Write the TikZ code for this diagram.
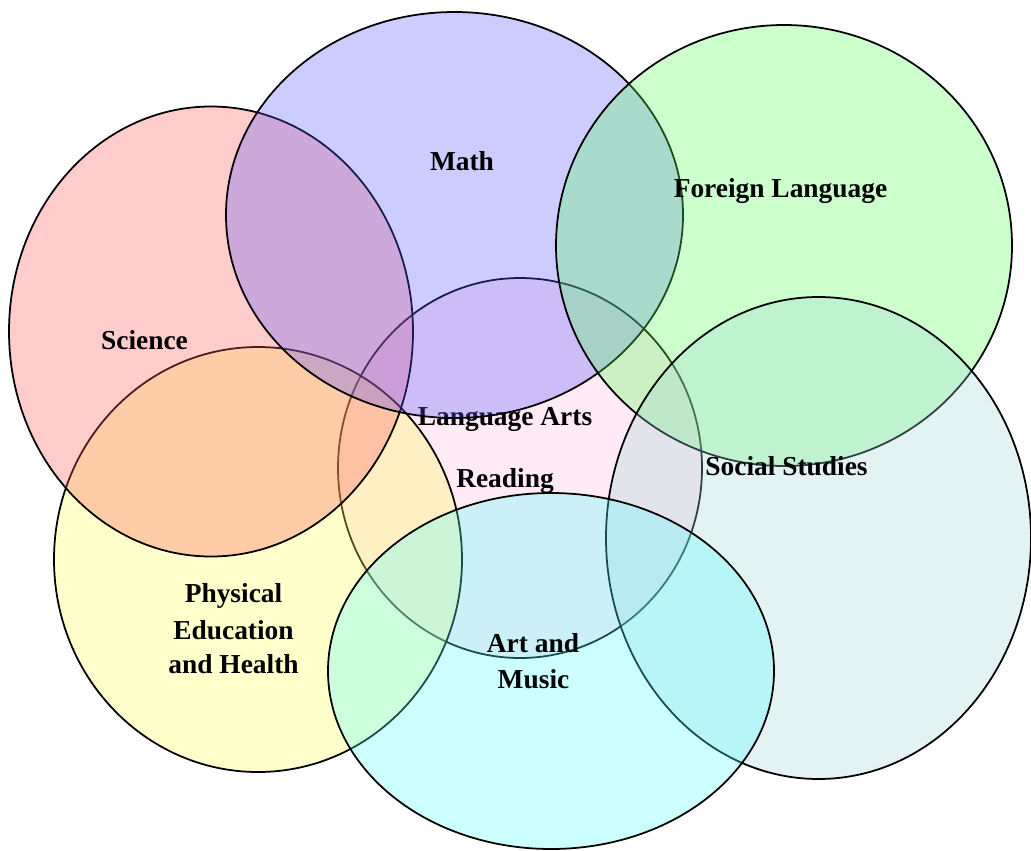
\documentclass[tikz,border=0pt]{standalone}
\usepackage{fontspec}
\setmainfont{Liberation Serif}
\usepackage{tikz}
\definecolor{rougesci}{RGB}{255,85,85}
\definecolor{bleumath}{RGB}{85,85,255}
\definecolor{vertlang}{RGB}{85,255,85}
\definecolor{roselect}{RGB}{255,186,222}
\definecolor{jaunesport}{RGB}{255,255,85}
\definecolor{grissoc}{RGB}{162,211,216}
\definecolor{cyanart}{RGB}{85,255,255}
\tikzstyle{bulle}=[draw=black, line width=1pt, fill opacity=0.3]
\tikzstyle{etiq}=[anchor=base, inner sep=0, font=\bfseries\fontsize{15.6}{20}\selectfont]
\newcommand{\patate}[4]{
  \draw[bulle,fill=#4] #1 ellipse ({#2} and {#3});
}

\begin{document}
\begin{tikzpicture}
\useasboundingbox (0,0) rectangle (20.62,-17);

%language arts
\patate{(10.40,-9.36)}{3.64}{3.80}{roselect}
\node[etiq](lang) at (10.10,-8.50) {Language Arts};
\node[etiq](read) at (10.10,-9.75) {Reading};

%physical education
\patate{(5.16,-11.19)}{4.08}{4.25}{jaunesport}
\node[etiq](pe1) at (4.67,-12.05) {Physical};
\node[etiq](pe2) at (4.67,-12.79) {Education};
\node[etiq](pe3) at (4.67,-13.47) {and Health};

%science
\patate{(4.22,-6.63)}{4.04}{4.50}{rougesci}
\node[etiq](sci) at (2.89,-6.99) {Science};

%math
\patate{(9.09,-4.30)}{4.57}{4.06}{bleumath}
\node[etiq](math) at (9.24,-3.41) {Math};

%foreign language
\patate{(15.68,-4.91)}{4.56}{4.41}{vertlang}
\node[etiq](lang2) at (15.61,-3.95) {Foreign Language};

%social studies
\patate{(16.37,-10.76)}{4.25}{4.82}{grissoc}
\node[etiq](soc) at (15.73,-9.50) {Social Studies};

%art and music
\patate{(11.02,-13.42)}{4.46}{3.56}{cyanart}
\node[etiq](art1) at (10.66,-13.05) {Art and};
\node[etiq](art2) at (10.67,-13.77) {Music};

\end{tikzpicture}
\end{document}
